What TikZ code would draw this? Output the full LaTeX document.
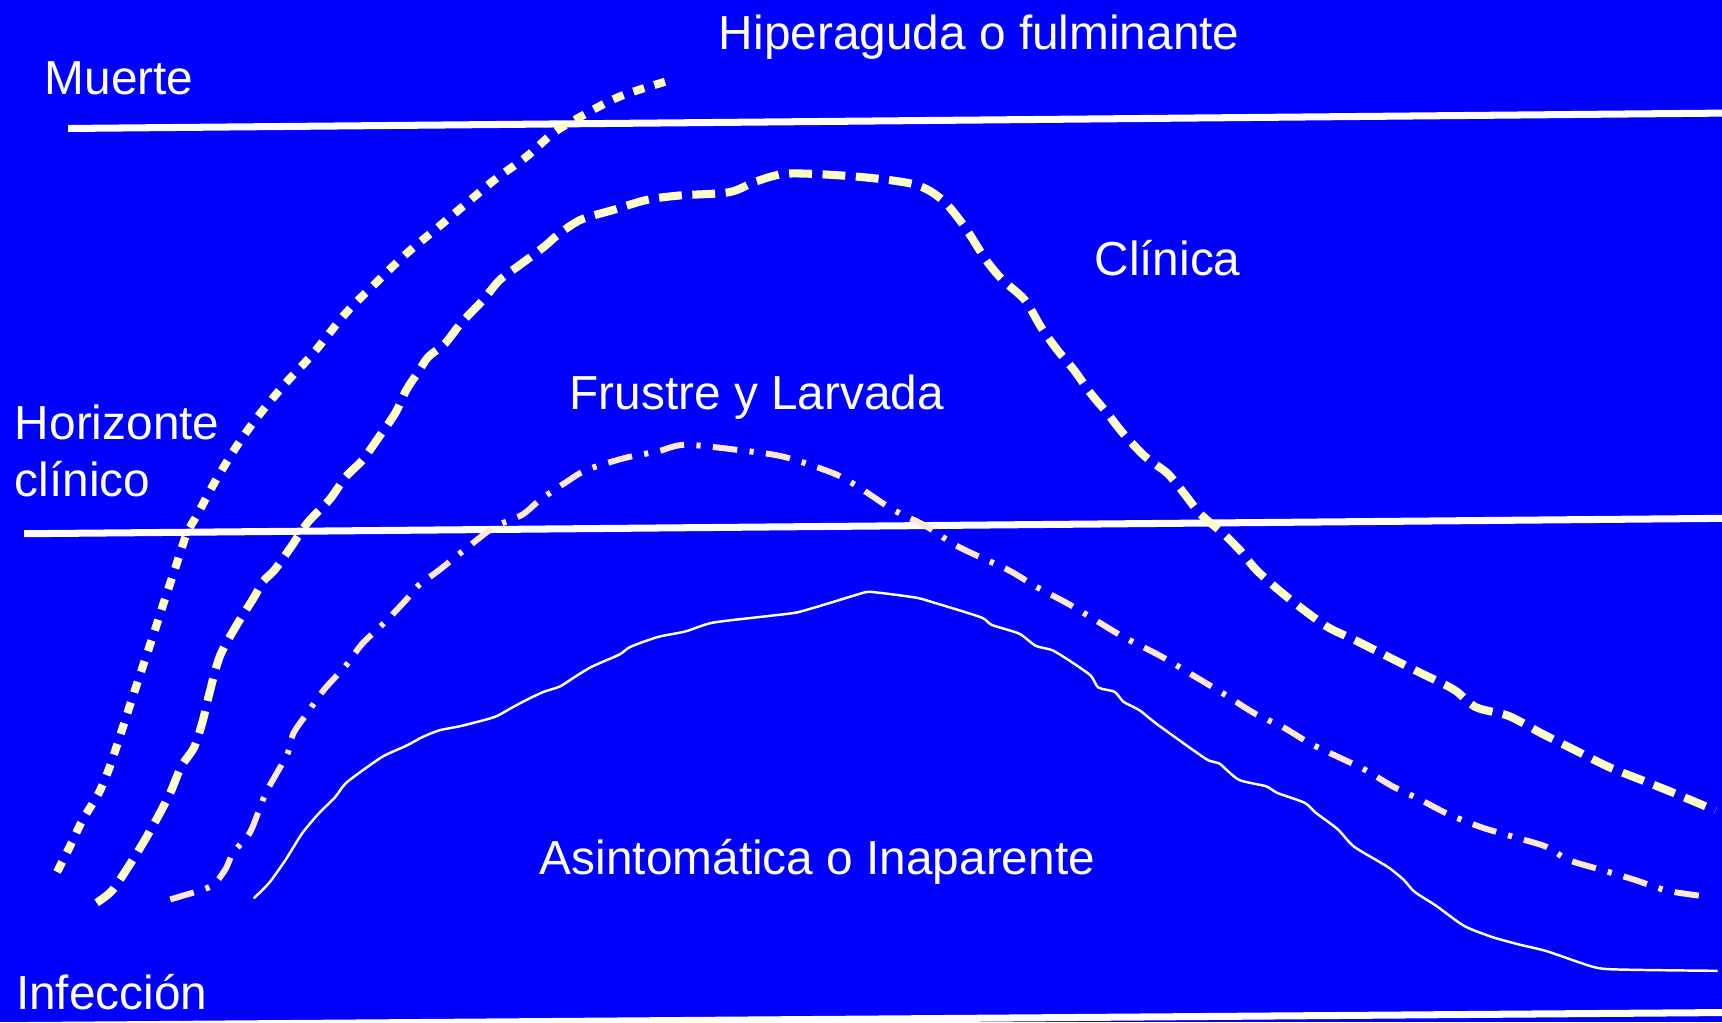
\documentclass[tikz,border=0pt]{standalone}
\usepackage{fontspec}
\setmainfont{Liberation Sans}
\usepackage{tikz}

\definecolor{fondo}{RGB}{0,0,255}
\definecolor{crema}{RGB}{255,255,204}
\definecolor{rosado}{RGB}{255,232,218}
\definecolor{blanco}{RGB}{255,255,238}

\begin{document}
\begin{tikzpicture}[x=0.010982cm, y=-0.010982cm,
    etiqueta/.style={anchor=base west, inner sep=0pt, text=white,
      font=\fontsize{13.6}{16.4}\selectfont},
    nivel/.style={draw=white, line width=2pt},
    hiper/.style={draw=crema, line width=2.3pt, dash pattern=on 3.2pt off 3pt},
    clin/.style={draw=crema, line width=2.3pt, dash pattern=on 6.5pt off 3pt},
    frustre/.style={draw=rosado, line width=1.7pt,
      dash pattern=on 7pt off 3.5pt on 1.2pt off 3.5pt},
    asint/.style={draw=blanco, line width=0.7pt}]
    \fill[fondo] (0,0) rectangle (1568,931);
    \useasboundingbox (0,0) rectangle (1568,931);

    \node[etiqueta] (hiperaguda) at (654,45.5) {Hiperaguda o fulminante};
    \node[etiqueta] (muerte) at (40,86.5) {Muerte};
    \node[etiqueta] (clinica) at (996,250.5) {Clínica};
    \node[etiqueta] (frustrelarv) at (518,372.5) {Frustre y Larvada};
    \node[etiqueta, align=left] (horizonte) at (13,452.5) {Horizonte\\clínico};
    \node[etiqueta] (asintomatica) at (491,796) {Asintomática o Inaparente};
    \node[etiqueta] (infeccion) at (14,919) {Infección};

    \coordinate (m1) at (62,117);
    \coordinate (m2) at (1568,103);
    \coordinate (h1) at (22,486);
    \coordinate (h2) at (1568,472);
    \coordinate (i1) at (0,934);
    \coordinate (i2) at (1568,922);
    \draw[nivel] (m1) -- (m2);
    \draw[nivel] (h1) -- (h2);
    \draw[nivel] (i1) -- (i2);

    \draw[hiper] plot[smooth, tension=0.5] coordinates {
      (52,794) (65,768) (75,747) (90,722) (100,698) (110,668) (120,637)
      (130,607) (140,577) (150,546) (160,516) (170,486) (180,468) (195,440)
      (215,407) (235,379) (260,349) (285,322) (315,285) (345,255) (370,231)
      (400,206) (425,185) (450,164) (479,143) (504,121) (529,106) (564,88)
      (607,74)};

    \draw[clin] plot[smooth, tension=0.5] coordinates {
      (88,822) (102,811) (117,789) (130,768) (142,747) (155,722) (165,698)
      (177,680) (185,655) (190,634) (200,598) (215,570) (230,546) (240,529)
      (250,519) (265,498) (280,476) (300,455) (315,434) (330,419) (345,398)
      (360,376) (370,355) (380,340) (390,325) (405,313) (420,294) (440,273)
      (455,255) (475,240) (495,225) (509,213) (529,200) (559,191) (589,182)
      (619,178) (664,175) (689,165) (719,158) (782,161) (833,168) (858,182)
      (878,206) (898,237) (913,255) (933,273) (948,298) (963,319) (978,337)
      (993,358) (1008,376) (1023,395) (1043,416) (1063,431) (1078,449)
      (1093,468) (1114,486) (1129,501) (1144,519) (1164,537) (1184,553)
      (1209,571) (1234,583) (1264,598) (1294,613) (1324,628) (1344,644)
      (1374,652) (1404,668) (1434,683) (1464,698) (1494,710) (1524,722)
      (1562,738)};

    \draw[frustre] plot[smooth, tension=0.5] coordinates {
      (155,819) (165,816) (192,807) (205,792) (212,777) (227,759) (235,740)
      (242,722) (252,704) (262,686) (267,668) (280,649) (295,628) (315,606)
      (330,586) (350,567) (370,546) (380,534) (400,519) (425,499) (450,480)
      (475,469) (492,455) (514,440) (534,428) (569,417) (599,411) (624,405)
      (674,410) (714,416) (759,431) (781,443) (813,464) (843,479) (873,498)
      (918,519) (943,534) (973,550) (998,565) (1023,580) (1058,598)
      (1088,616) (1113,631) (1143,650) (1168,662) (1193,677) (1218,689)
      (1243,701) (1268,716) (1293,728) (1318,741) (1348,753) (1378,762)
      (1408,771) (1428,783) (1458,792) (1488,801) (1518,811) (1551,816)};

    \draw[asint] plot[smooth, tension=0.4] coordinates {
      (231,818) (245,804) (260,783) (275,759) (290,741) (305,726) (315,713)
      (335,698) (350,688) (370,679) (385,671) (400,665) (420,661) (450,653)
      (465,645) (480,637) (495,630) (510,625) (524,616) (539,607) (564,596)
      (574,589) (599,580) (624,575) (649,567) (699,561) (724,558) (739,554)
      (759,548) (782,541) (793,539) (833,544) (848,548) (893,562) (903,569)
      (928,577) (943,588) (958,592) (973,601) (993,615) (1000,626)
      (1015,630) (1023,639) (1038,647) (1053,659) (1098,691) (1110,695)
      (1128,710) (1153,716) (1163,722) (1188,731) (1198,740) (1218,755)
      (1233,771) (1263,789) (1278,801) (1288,812) (1308,825) (1333,843)
      (1358,853) (1383,860) (1408,866) (1453,881) (1483,883) (1564,884)};
\end{tikzpicture}
\end{document}
